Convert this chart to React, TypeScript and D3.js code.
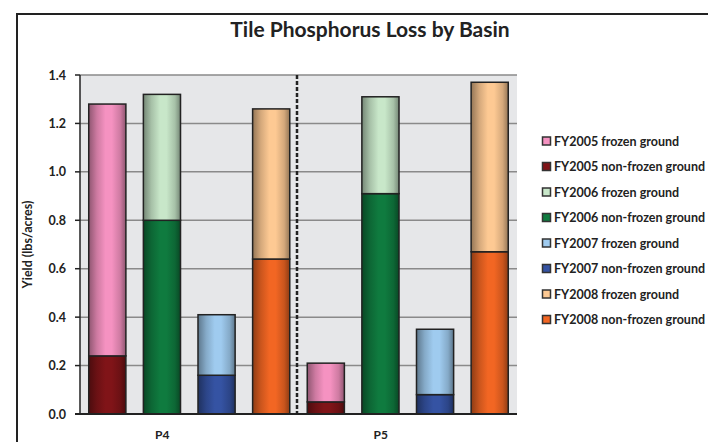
import React from "react";
import * as d3 from "d3";

const basins = ["P4", "P5"];
const years = ["FY2005", "FY2006", "FY2007", "FY2008"];
const nonFrozenP4 = [0.24, 0.80, 0.16, 0.64];
const frozenP4 = [1.04, 0.52, 0.25, 0.62];
const nonFrozenP5 = [0.05, 0.91, 0.08, 0.67];
const frozenP5 = [0.16, 0.40, 0.27, 0.70];
const yTicks = [0, 0.2, 0.4, 0.6, 0.8, 1.0, 1.2, 1.4];
const frozenColors = ["#F592C1", "#C8E7C9", "#9FCBEF", "#FDC993"];
const nonFrozenColors = ["#801418", "#0F7B3F", "#3553A3", "#F26623"];

const W = 708, H = 442;
const plot = { left: 80, right: 517, top: 75, bottom: 414 };
const FONT = "Lato, 'Open Sans', sans-serif";

type Row = { key: string; basin: string; yi: number; nonFrozen: number; frozen: number };
const rows: Row[] = [];
basins.forEach((b, bi) => {
  const nf = bi === 0 ? nonFrozenP4 : nonFrozenP5;
  const fr = bi === 0 ? frozenP4 : frozenP5;
  years.forEach((y, yi) => rows.push({ key: `${b}-${y}`, basin: b, yi, nonFrozen: nf[yi], frozen: fr[yi] }));
});

export default function App() {
  const x = d3.scaleBand<string>().domain(rows.map(r => r.key)).range([plot.left, plot.right]).paddingInner(0.32).paddingOuter(0.16);
  const xb = d3.scaleBand<string>().domain(basins).range([plot.left, plot.right]);
  const y = d3.scaleLinear().domain([0, 1.4]).range([plot.bottom, plot.top]);
  const stack = d3.stack<Row>().keys(["nonFrozen", "frozen"]);
  const series = stack(rows);
  const colorOf = (si: number, yi: number) => (si === 0 ? nonFrozenColors[yi] : frozenColors[yi]);
  const legendItems = years.flatMap((yr, yi) => [
    { label: `${yr} frozen ground`, color: frozenColors[yi] },
    { label: `${yr} non-frozen ground`, color: nonFrozenColors[yi] },
  ]);
  const gradId = (c: string) => "g" + c.slice(1);
  const allColors = [...frozenColors, ...nonFrozenColors];
  const sep = (xb("P5") as number) - 1.5;

  return (
    <svg width={W} height={H} style={{ position: "absolute", left: 0, top: 0, background: "#fff" }} fontFamily={FONT}>
      <defs>
        {allColors.map(c => {
          const dk = d3.color(c)!.darker(1.5).formatHex();
          const md = d3.color(c)!.darker(0.5).formatHex();
          return (
            <linearGradient key={c} id={gradId(c)} x1="0" x2="1" y1="0" y2="0">
              <stop offset="0%" stopColor={dk} />
              <stop offset="22%" stopColor={md} />
              <stop offset="45%" stopColor={c} />
              <stop offset="62%" stopColor={c} />
              <stop offset="85%" stopColor={md} />
              <stop offset="100%" stopColor={dk} />
            </linearGradient>
          );
        })}
      </defs>
      <rect x={0} y={0} width={W} height={H} fill="#fff" />
      <path d={`M17,${H + 5}V14H${W + 5}`} fill="none" stroke="#222" strokeWidth={2} />
      <text x={370} y={37} textAnchor="middle" fontSize={21} fontWeight="bold" fill="#222">Tile Phosphorus Loss by Basin</text>

      <rect x={plot.left} y={plot.top} width={plot.right - plot.left} height={plot.bottom - plot.top} fill="#E6E7E9" />
      {yTicks.map(t => (
        <g key={t}>
          {t > 0 && <line x1={plot.left} x2={plot.right} y1={y(t)} y2={y(t)} stroke="#8A8A8A" strokeWidth={1.5} />}
          <line x1={plot.left - 5} x2={plot.left} y1={y(t)} y2={y(t)} stroke="#222" strokeWidth={1.5} />
          <text x={66} y={y(t) + 4.5} textAnchor="end" fontSize={12.5} fontWeight="bold" fill="#222">{t.toFixed(1)}</text>
        </g>
      ))}
      <line x1={sep} x2={sep} y1={plot.top} y2={plot.bottom} stroke="#222" strokeWidth={2.5} strokeDasharray="4,2" />

      {series.map((s, si) =>
        s.map((d, i) => {
          const r = rows[i];
          const c = colorOf(si, r.yi);
          return (
            <rect key={`${si}-${r.key}`} x={x(r.key)} width={x.bandwidth()} y={y(d[1])} height={y(d[0]) - y(d[1])}
              fill={`url(#${gradId(c)})`} stroke="#222" strokeWidth={1.5} />
          );
        })
      )}

      <line x1={plot.left} x2={plot.left} y1={plot.top} y2={plot.bottom} stroke="#222" strokeWidth={1.5} />
      <line x1={plot.left - 5} x2={plot.right} y1={plot.bottom} y2={plot.bottom} stroke="#222" strokeWidth={2} />

      {basins.map(b => (
        <text key={b} x={(xb(b) as number) + xb.bandwidth() / 2 - 27} y={439} textAnchor="middle" fontSize={12} fontWeight="bold" fill="#222">{b}</text>
      ))}
      <text transform={`translate(32,${(plot.top + plot.bottom) / 2}) rotate(-90)`} textAnchor="middle" fontSize={12.5} fontWeight="bold" fill="#222">Yield (lbs/acres)</text>

      {legendItems.map((it, i) => (
        <g key={it.label} transform={`translate(542,${141 + i * 25.5})`}>
          <rect x={0.5} y={-4} width={8} height={8} fill={it.color} stroke="#333" strokeWidth={1.5} />
          <text x={12} y={4.5} fontSize={12.5} fontWeight="bold" fill="#222">{it.label}</text>
        </g>
      ))}
    </svg>
  );
}
